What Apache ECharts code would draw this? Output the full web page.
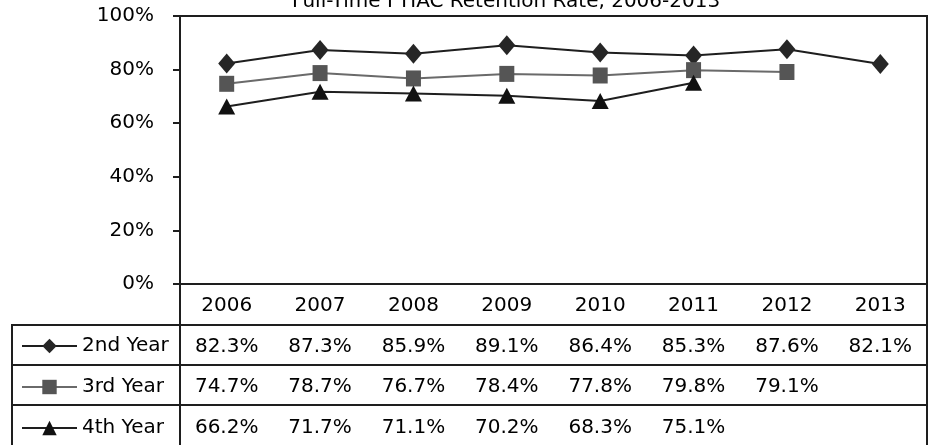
<!DOCTYPE html>
<html>
<head>
<meta charset="utf-8">
<script src="https://cdn.jsdelivr.net/npm/echarts@6/dist/echarts.min.js"></script>
<style>html,body{margin:0;padding:0;background:#fff}#c{width:934px;height:445px}</style>
</head>
<body>
<div id="c"></div>
<script>
var titleText = 'Full-Time FTIAC Retention Rate, 2006-2013';
var categories = ['2006', '2007', '2008', '2009', '2010', '2011', '2012', '2013'];
var seriesNames = ['2nd Year', '3rd Year', '4th Year'];
var secondYear = [82.3, 87.3, 85.9, 89.1, 86.4, 85.3, 87.6, 82.1];
var thirdYear = [74.7, 78.7, 76.7, 78.4, 77.8, 79.8, 79.1, null];
var fourthYear = [66.2, 71.7, 71.1, 70.2, 68.3, 75.1, null, null];
var yTicks = [0, 20, 40, 60, 80, 100];

var allSeries = [secondYear, thirdYear, fourthYear];
var FONT = 'DejaVu Sans';
var chart = echarts.init(document.getElementById('c'));

function fmt(v) { return (v === null || v === undefined) ? '' : v.toFixed(1) + '%'; }

var lineStyle = {stroke: '#1e1e1e', lineWidth: 2};
function seg(x1, y1, x2, y2) {
  return {type: 'line', shape: {x1: x1, y1: y1, x2: x2, y2: y2}, style: lineStyle, silent: true};
}

chart.setOption({
  backgroundColor: '#ffffff',
  animation: false,
  title: {
    text: titleText,
    left: 287,
    top: -13,
    textStyle: {fontFamily: FONT, fontSize: 20, fontWeight: 'normal', color: '#000'}
  },
  legend: {
    orient: 'vertical',
    left: 16,
    top: 331,
    itemWidth: 55,
    itemHeight: 18,
    itemGap: 21,
    data: seriesNames,
    textStyle: {fontFamily: FONT, fontSize: 20, color: '#000', lineHeight: 20}
  },
  grid: {
    left: 180, right: 7, top: 16, bottom: 161,
    outerBoundsMode: 'none',
    containLabel: false,
    show: true, borderColor: '#1e1e1e', borderWidth: 2, backgroundColor: 'transparent'
  },
  xAxis: {
    type: 'category',
    data: categories,
    boundaryGap: true,
    axisLine: {lineStyle: {color: '#1e1e1e', width: 2}},
    axisTick: {show: false},
    axisLabel: {
      interval: 0,
      margin: 2,
      fontFamily: FONT,
      fontSize: 20,
      color: '#000',
      lineHeight: 40.5,
      formatter: function (value, idx) {
        var lines = [value];
        for (var s = 0; s < allSeries.length; s++) lines.push(fmt(allSeries[s][idx]));
        return lines.join('\n');
      }
    }
  },
  yAxis: {
    type: 'value',
    min: yTicks[0],
    max: yTicks[yTicks.length - 1],
    interval: yTicks[1] - yTicks[0],
    axisLine: {show: true, lineStyle: {color: '#1e1e1e', width: 2}},
    axisTick: {show: true, length: 7, lineStyle: {color: '#1e1e1e', width: 2}},
    splitLine: {show: false},
    axisLabel: {
      margin: 26,
      fontFamily: FONT,
      fontSize: 20,
      color: '#000',
      formatter: '{value}%'
    }
  },
  series: [
    {
      name: seriesNames[0], type: 'line', data: secondYear,
      symbol: 'diamond', symbolSize: [17, 20],
      lineStyle: {color: '#1e1e1e', width: 2},
      itemStyle: {color: '#262626'}
    },
    {
      name: seriesNames[1], type: 'line', data: thirdYear,
      symbol: 'rect', symbolSize: [15, 16],
      lineStyle: {color: '#6a6a6a', width: 2},
      itemStyle: {color: '#555555'}
    },
    {
      name: seriesNames[2], type: 'line', data: fourthYear,
      symbol: 'triangle', symbolSize: [17, 16],
      lineStyle: {color: '#1e1e1e', width: 2},
      itemStyle: {color: '#111'}
    }
  ],
  graphic: [
    seg(12, 325, 927, 325),
    seg(12, 365, 927, 365),
    seg(12, 405, 927, 405),
    seg(12, 324, 12, 446),
    seg(180, 284, 180, 446),
    seg(927, 15, 927, 446)
  ]
});
</script>
</body>
</html>
